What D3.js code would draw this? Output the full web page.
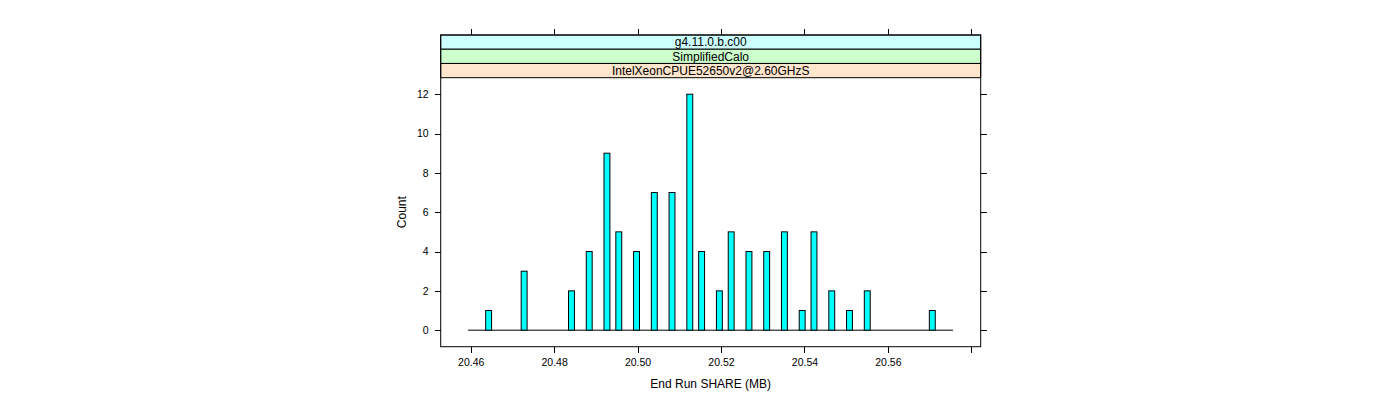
<!DOCTYPE html>
<html>
<head>
<meta charset="utf-8">
<script src="https://cdn.jsdelivr.net/npm/d3@7/dist/d3.min.js"></script>
<style>
  html, body { margin: 0; padding: 0; background: #fff; }
  svg { display: block; font-family: "Liberation Sans", Arial, Helvetica, sans-serif; }
</style>
</head>
<body>
<svg id="chart" width="1400" height="400"></svg>
<script>
// ---- data ----
const stripLabels = ["g4.11.0.b.c00", "SimplifiedCalo", "IntelXeonCPUE52650v2@2.60GHzS"];
const stripColors = ["#ccffff", "#ccffcc", "#ffe5cc"];
// left edge of each non-empty histogram bin (MB)
const binStarts = [20.46359, 20.47210, 20.48345, 20.48770, 20.49195, 20.49479, 20.49904,
  20.50330, 20.50755, 20.51181, 20.51464, 20.51890, 20.52173, 20.52599, 20.53024,
  20.53449, 20.53875, 20.54158, 20.54584, 20.55009, 20.55435, 20.56994];
const counts = [1, 3, 2, 4, 9, 5, 4, 7, 7, 12, 4, 2, 5, 4, 4, 5, 1, 5, 2, 1, 2, 1];
const binWidth = 0.001418;
const histRange = [20.45934, 20.5756];
const xTicks = [20.46, 20.48, 20.50, 20.52, 20.54, 20.56, 20.58];
const xTickLabels = ["20.46", "20.48", "20.50", "20.52", "20.54", "20.56", ""];
const yTicks = [0, 2, 4, 6, 8, 10, 12];
const xLabel = "End Run SHARE (MB)";
const yLabel = "Count";

// ---- layout ----
const L = 440.7, R = 980.7, stripTop = 35, stripH = 14.23, plotTop = stripTop + 3 * stripH, plotBottom = 346.7;
const svg = d3.select("#chart");

const x = d3.scaleLinear().domain([20.45281, 20.58225]).range([L, R]);
const y = d3.scaleLinear().domain([-0.84, 12.84]).range([plotBottom, plotTop]);

// strips
const strips = svg.append("g");
stripLabels.forEach((lab, i) => {
  const y0 = stripTop + i * stripH;
  strips.append("rect").attr("x", L).attr("y", y0).attr("width", R - L).attr("height", stripH)
    .attr("fill", stripColors[i]).attr("stroke", "#000").attr("stroke-width", 1);
  strips.append("text").attr("x", (L + R) / 2).attr("y", y0 + stripH / 2).attr("dy", "0.36em")
    .attr("text-anchor", "middle").attr("font-size", "12px").attr("fill", "#000").text(lab);
});

// panel border
svg.append("rect").attr("x", L).attr("y", stripTop).attr("width", R - L).attr("height", plotBottom - stripTop)
  .attr("fill", "none").attr("stroke", "#000").attr("stroke-width", 1);

// histogram baseline (empty bins)
svg.append("line").attr("x1", x(histRange[0])).attr("x2", x(histRange[1]))
  .attr("y1", y(0)).attr("y2", y(0)).attr("stroke", "#000").attr("stroke-width", 1);

// bars
svg.append("g").selectAll("rect").data(binStarts).join("rect")
  .attr("x", d => x(d))
  .attr("width", d => x(d + binWidth) - x(d))
  .attr("y", (d, i) => y(counts[i]))
  .attr("height", (d, i) => y(0) - y(counts[i]))
  .attr("fill", "#00ffff").attr("stroke", "#000").attr("stroke-width", 1);

// axes
function styleAxis(g) {
  g.select(".domain").remove();
  g.selectAll(".tick line").attr("stroke", "#000").attr("shape-rendering", "crispEdges");
  g.selectAll(".tick text").attr("fill", "#000").attr("font-size", "10.5px")
    .attr("font-family", "'Liberation Sans', Arial, Helvetica, sans-serif");
}
svg.append("g").attr("transform", `translate(0,${plotBottom})`)
  .call(d3.axisBottom(x).tickValues(xTicks).tickSize(6).tickPadding(6)
    .tickFormat((d, i) => xTickLabels[i]))
  .call(styleAxis);
svg.append("g").attr("transform", `translate(0,${stripTop})`)
  .call(d3.axisTop(x).tickValues(xTicks).tickSize(6).tickFormat(""))
  .call(styleAxis);
svg.append("g").attr("transform", `translate(${L},0)`)
  .call(d3.axisLeft(y).tickValues(yTicks).tickSize(6).tickPadding(6).tickFormat(d3.format("d")))
  .call(styleAxis);
svg.append("g").attr("transform", `translate(${R},0)`)
  .call(d3.axisRight(y).tickValues(yTicks).tickSize(6).tickFormat(""))
  .call(styleAxis);

// axis titles
svg.append("text").attr("x", (L + R) / 2).attr("y", 384).attr("dy", "0.36em")
  .attr("text-anchor", "middle").attr("font-size", "12px").attr("fill", "#000").text(xLabel);
svg.append("text").attr("transform", `translate(402,${(plotTop + plotBottom) / 2}) rotate(-90)`)
  .attr("dy", "0.36em").attr("text-anchor", "middle").attr("font-size", "12px").attr("fill", "#000").text(yLabel);
</script>
</body>
</html>
